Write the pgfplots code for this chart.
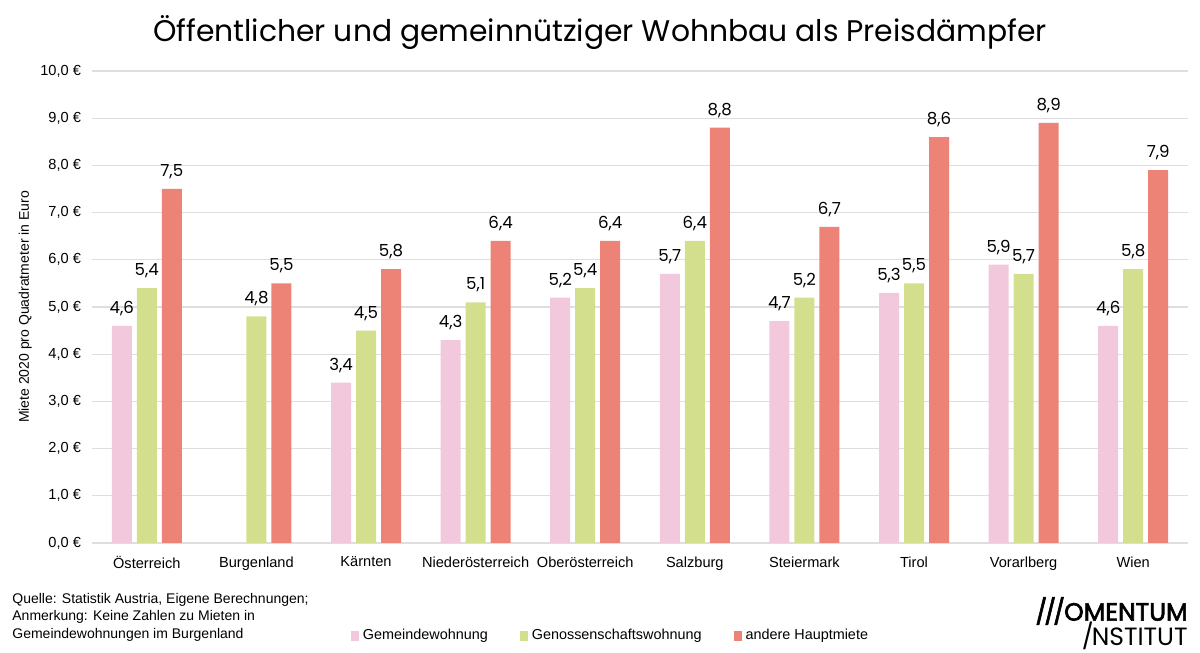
\documentclass[border=0pt]{standalone}
\usepackage{pgfplots}
\pgfplotsset{compat=1.18}
\usepackage{fontspec}
\setmainfont{Liberation Sans}
\newfontfamily\poppins{Poppins}
\newfontfamily\poppinsbold{Poppins}[FakeBold=2.5]
\definecolor{cpink}{RGB}{242,200,220}
\definecolor{cgreen}{RGB}{212,223,142}
\definecolor{cred}{RGB}{237,130,118}
\definecolor{cgrid}{RGB}{222,222,222}
\begin{document}
\begin{tikzpicture}
\path (0,0) rectangle (600pt,326.5pt);
\begin{axis}[
  at={(46pt,55pt)}, anchor=south west,
  scale only axis, width=548pt, height=236pt,
  xmin=-0.5, xmax=9.5, ymin=0, ymax=10,
  ybar, bar width=10pt,
  /pgf/number format/assume math mode=true,
  axis line style={draw=none},
  tick style={draw=none},
  ymajorgrids, grid style={cgrid, line width=0.6pt},
  ytick={0,1,...,10},
  yticklabel={\pgfmathprintnumber[fixed,fixed zerofill,precision=1,use comma,assume math mode=true]{\tick}~€},
  yticklabel style={font=\fontsize{7.3}{8}\selectfont, xshift=-2pt},
  xtick={0,...,9},
  xticklabels={Österreich,Burgenland,Kärnten,Niederösterreich,Oberösterreich,Salzburg,Steiermark,Tirol,Vorarlberg,Wien},
  xticklabel style={font=\fontsize{7.3}{8}\selectfont, yshift=1pt},
  ylabel={Miete 2020 pro Quadratmeter in Euro},
  ylabel style={font=\fontsize{7}{8}\selectfont, at={(axis description cs:-0.061,0.5)}, anchor=center},
  nodes near coords={\pgfmathprintnumber[fixed,fixed zerofill,precision=1,use comma,assume math mode=true]{\pgfplotspointmeta}},
  nodes near coords style={font=\poppins\fontsize{8.3}{9}\selectfont, black, yshift=1.5pt},
  legend columns=3,
  legend style={draw=none, at={(0.474,-0.197)}, anchor=center, font=\fontsize{7.2}{8}\selectfont,
     /tikz/every even column/.append style={column sep=14pt}},
  legend image code/.code={\fill[#1] (0pt,-2.5pt) rectangle (4pt,2.5pt);},
]
\addplot[fill=cpink, draw=none, bar shift=-12.5pt] coordinates {(0,4.6) (2,3.4) (3,4.3) (4,5.2) (5,5.7) (6,4.7) (7,5.3) (8,5.9) (9,4.6)};
\addplot[fill=cgreen, draw=none, bar shift=0pt] coordinates {(0,5.4) (1,4.8) (2,4.5) (3,5.1) (4,5.4) (5,6.4) (6,5.2) (7,5.5) (8,5.7) (9,5.8)};
\addplot[fill=cred, draw=none, bar shift=12.5pt] coordinates {(0,7.5) (1,5.5) (2,5.8) (3,6.4) (4,6.4) (5,8.8) (6,6.7) (7,8.6) (8,8.9) (9,7.9)};
\legend{Gemeindewohnung,Genossenschaftswohnung,andere Hauptmiete}
\end{axis}
\node[font=\poppins\fontsize{14.9}{18}\selectfont, anchor=center] at (300pt,310pt) {Öffentlicher und gemeinnütziger Wohnbau als Preisdämpfer};
\node[font=\fontsize{7}{8.7}\selectfont, anchor=north west, align=left, inner sep=0pt] at (6pt,30pt)
 {Quelle: Statistik Austria, Eigene Berechnungen;\\Anmerkung: Keine Zahlen zu Mieten in\\Gemeindewohnungen im Burgenland};
\node[font=\poppinsbold\fontsize{12.5}{13}\selectfont, anchor=east, inner sep=0pt] at (594pt,21pt) {/\kern-1.5pt/\kern-1.5pt/\kern-0.5pt OMENTUM};
\node[font=\poppins\fontsize{12.5}{13}\selectfont, anchor=east, inner sep=0pt] at (594pt,8.5pt) {/\kern-1pt NSTITUT};
\end{tikzpicture}
\end{document}
